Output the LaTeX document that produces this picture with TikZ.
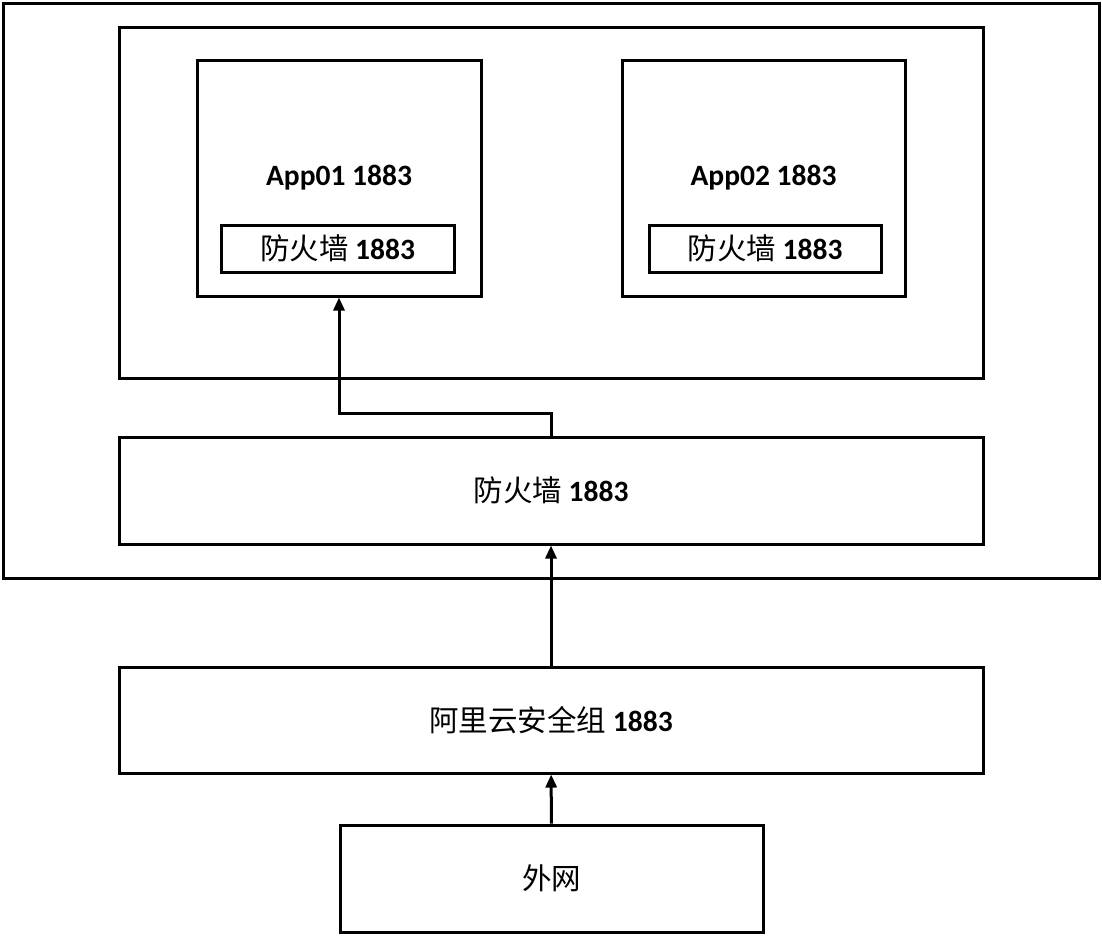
\documentclass[tikz,border=0pt]{standalone}
\usepackage{fontspec}
\setmainfont{Carlito}
\newfontfamily\zhfont{Noto Sans CJK SC}
\usetikzlibrary{arrows.meta}
\newcommand{\zh}[1]{{\zhfont\mdseries #1}}
\begin{document}
\begin{tikzpicture}[x=1pt, y=-1pt,
    box/.style={draw, line width=3pt, inner sep=0pt, font=\fontsize{29.5}{33}\selectfont\bfseries},
    arr/.style={line width=3pt, -{Triangle[length=13pt,width=11pt]}}]
    \useasboundingbox (0,0) rectangle (1102,935);
    % frame
    \node[box, minimum width=1096pt, minimum height=575pt] (host)  at (551,290.5) {};
    \node[box, minimum width=864pt, minimum height=351pt]  (docker) at ([shift={(0,-88)}] host) {};
    % apps
    \node[box, minimum width=284pt, minimum height=236pt] (app01) at ([shift={(-212,-24.5)}] docker) {App01 1883};
    \node[box, minimum width=283pt, minimum height=236pt] (app02) at ([shift={(424.5,0)}] app01) {App02 1883};
    \node[box, minimum width=233pt, minimum height=47pt] (fwa) at ([shift={(-1.5,70.5)}] app01) {\zh{防火墙} 1883};
    \node[box, minimum width=232pt, minimum height=47pt] (fwb) at ([shift={(1.5,70.5)}] app02) {\zh{防火墙} 1883};
    % layers
    \node[box, minimum width=864pt, minimum height=107pt] (fw)  at ([shift={(0,288)}] docker) {\zh{防火墙} 1883};
    \node[box, minimum width=864pt, minimum height=106pt] (sg)  at ([shift={(0,229.5)}] fw) {\zh{阿里云安全组} 1883};
    \node[box, minimum width=423pt, minimum height=107pt] (wan) at ([shift={(0.5,158.5)}] sg) {\zh{外网}};
    \draw [arr] (wan) to (sg);
    \draw [arr] (sg) to (fw);
    \draw [arr] (fw.north) -- ([yshift=22pt] fw.north) -| (app01.south);
  \end{tikzpicture}
\end{document}
